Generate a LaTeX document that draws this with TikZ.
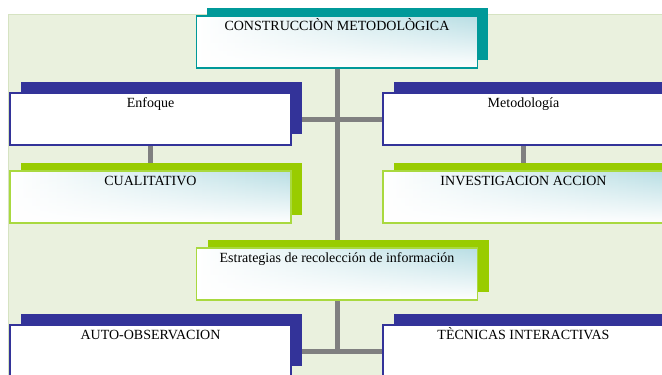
\documentclass[tikz,border=0pt]{standalone}
\usepackage{fontspec}
\setmainfont{Liberation Serif}
\usetikzlibrary{shadows,fadings}
\definecolor{bggreen}{HTML}{EAF1DE}
\definecolor{bgedge}{HTML}{D6E3C2}
\definecolor{tealc}{HTML}{009999}
\definecolor{navyc}{HTML}{333399}
\definecolor{limec}{HTML}{99CC00}
\definecolor{limeborder}{HTML}{A9D93F}
\definecolor{gblue}{HTML}{B8DEE4}
\definecolor{linegray}{HTML}{808080}
\pgfdeclarelayer{bg}
\pgfdeclarelayer{lines}
\pgfsetlayers{bg,lines,main}
\tikzfading[name=botwhite, top color=transparent!100, middle color=transparent!85, bottom color=transparent!0]
\begin{document}
\begin{tikzpicture}[x=1pt,y=-1pt,
  box/.style={rectangle, minimum width=281pt, minimum height=52pt, inner sep=0pt,
    text height=14.5pt, text depth=37.5pt, line width=1.6pt,
    font=\fontsize{14}{16}\selectfont, fill=white},
  gradbox/.style={left color=white, right color=gblue,
    path picture={\fill[white,path fading=botwhite]
      (path picture bounding box.south west) rectangle (path picture bounding box.north east);}},
  navybox/.style={box, draw=navyc,
    general shadow={fill=navyc, shadow xshift=11pt, shadow yshift=11pt}},
  limebox/.style={box, draw=limeborder, gradbox,
    general shadow={fill=limec, shadow xshift=11pt, shadow yshift=8pt}},
  tealbox/.style={box, draw=tealc, gradbox,
    general shadow={fill=tealc, shadow xshift=10pt, shadow yshift=8pt}},
  conn/.style={draw=linegray, line width=5pt}]
\useasboundingbox (0,0) rectangle (662,375);
\clip (0,0) rectangle (662,375);
\begin{pgfonlayer}{bg}
  \fill[bggreen, draw=bgedge, line width=1pt] (8,14) rectangle (670,380);
\end{pgfonlayer}

\node[tealbox] (top) at (337,42) {CONSTRUCCIÒN METODOLÒGICA};
\node[navybox] (enf) at (150.5,119) {Enfoque};
\node[navybox] (met) at (523.5,119) {Metodología};
\node[limebox] (cual) at (150.5,197) {CUALITATIVO};
\node[limebox] (inv) at (523.5,197) {INVESTIGACION ACCION};
\node[limebox] (est) at (337,274) {Estrategias de recolección de información};
\node[navybox] (auto) at (150.5,351) {AUTO-OBSERVACION};
\node[navybox] (tec) at (523.5,351) {TÈCNICAS INTERACTIVAS};

\begin{pgfonlayer}{lines}
  \draw[conn] (top.south) -- (est.north);
  \draw[conn] (est.south) -- ([yshift=-2.5pt]est.south |- auto);
  \draw[conn] (enf) -- (met);
  \draw[conn] (enf) -- (cual);
  \draw[conn] (met) -- (inv);
  \draw[conn] (auto) -- (tec);
\end{pgfonlayer}
\end{tikzpicture}
\end{document}
